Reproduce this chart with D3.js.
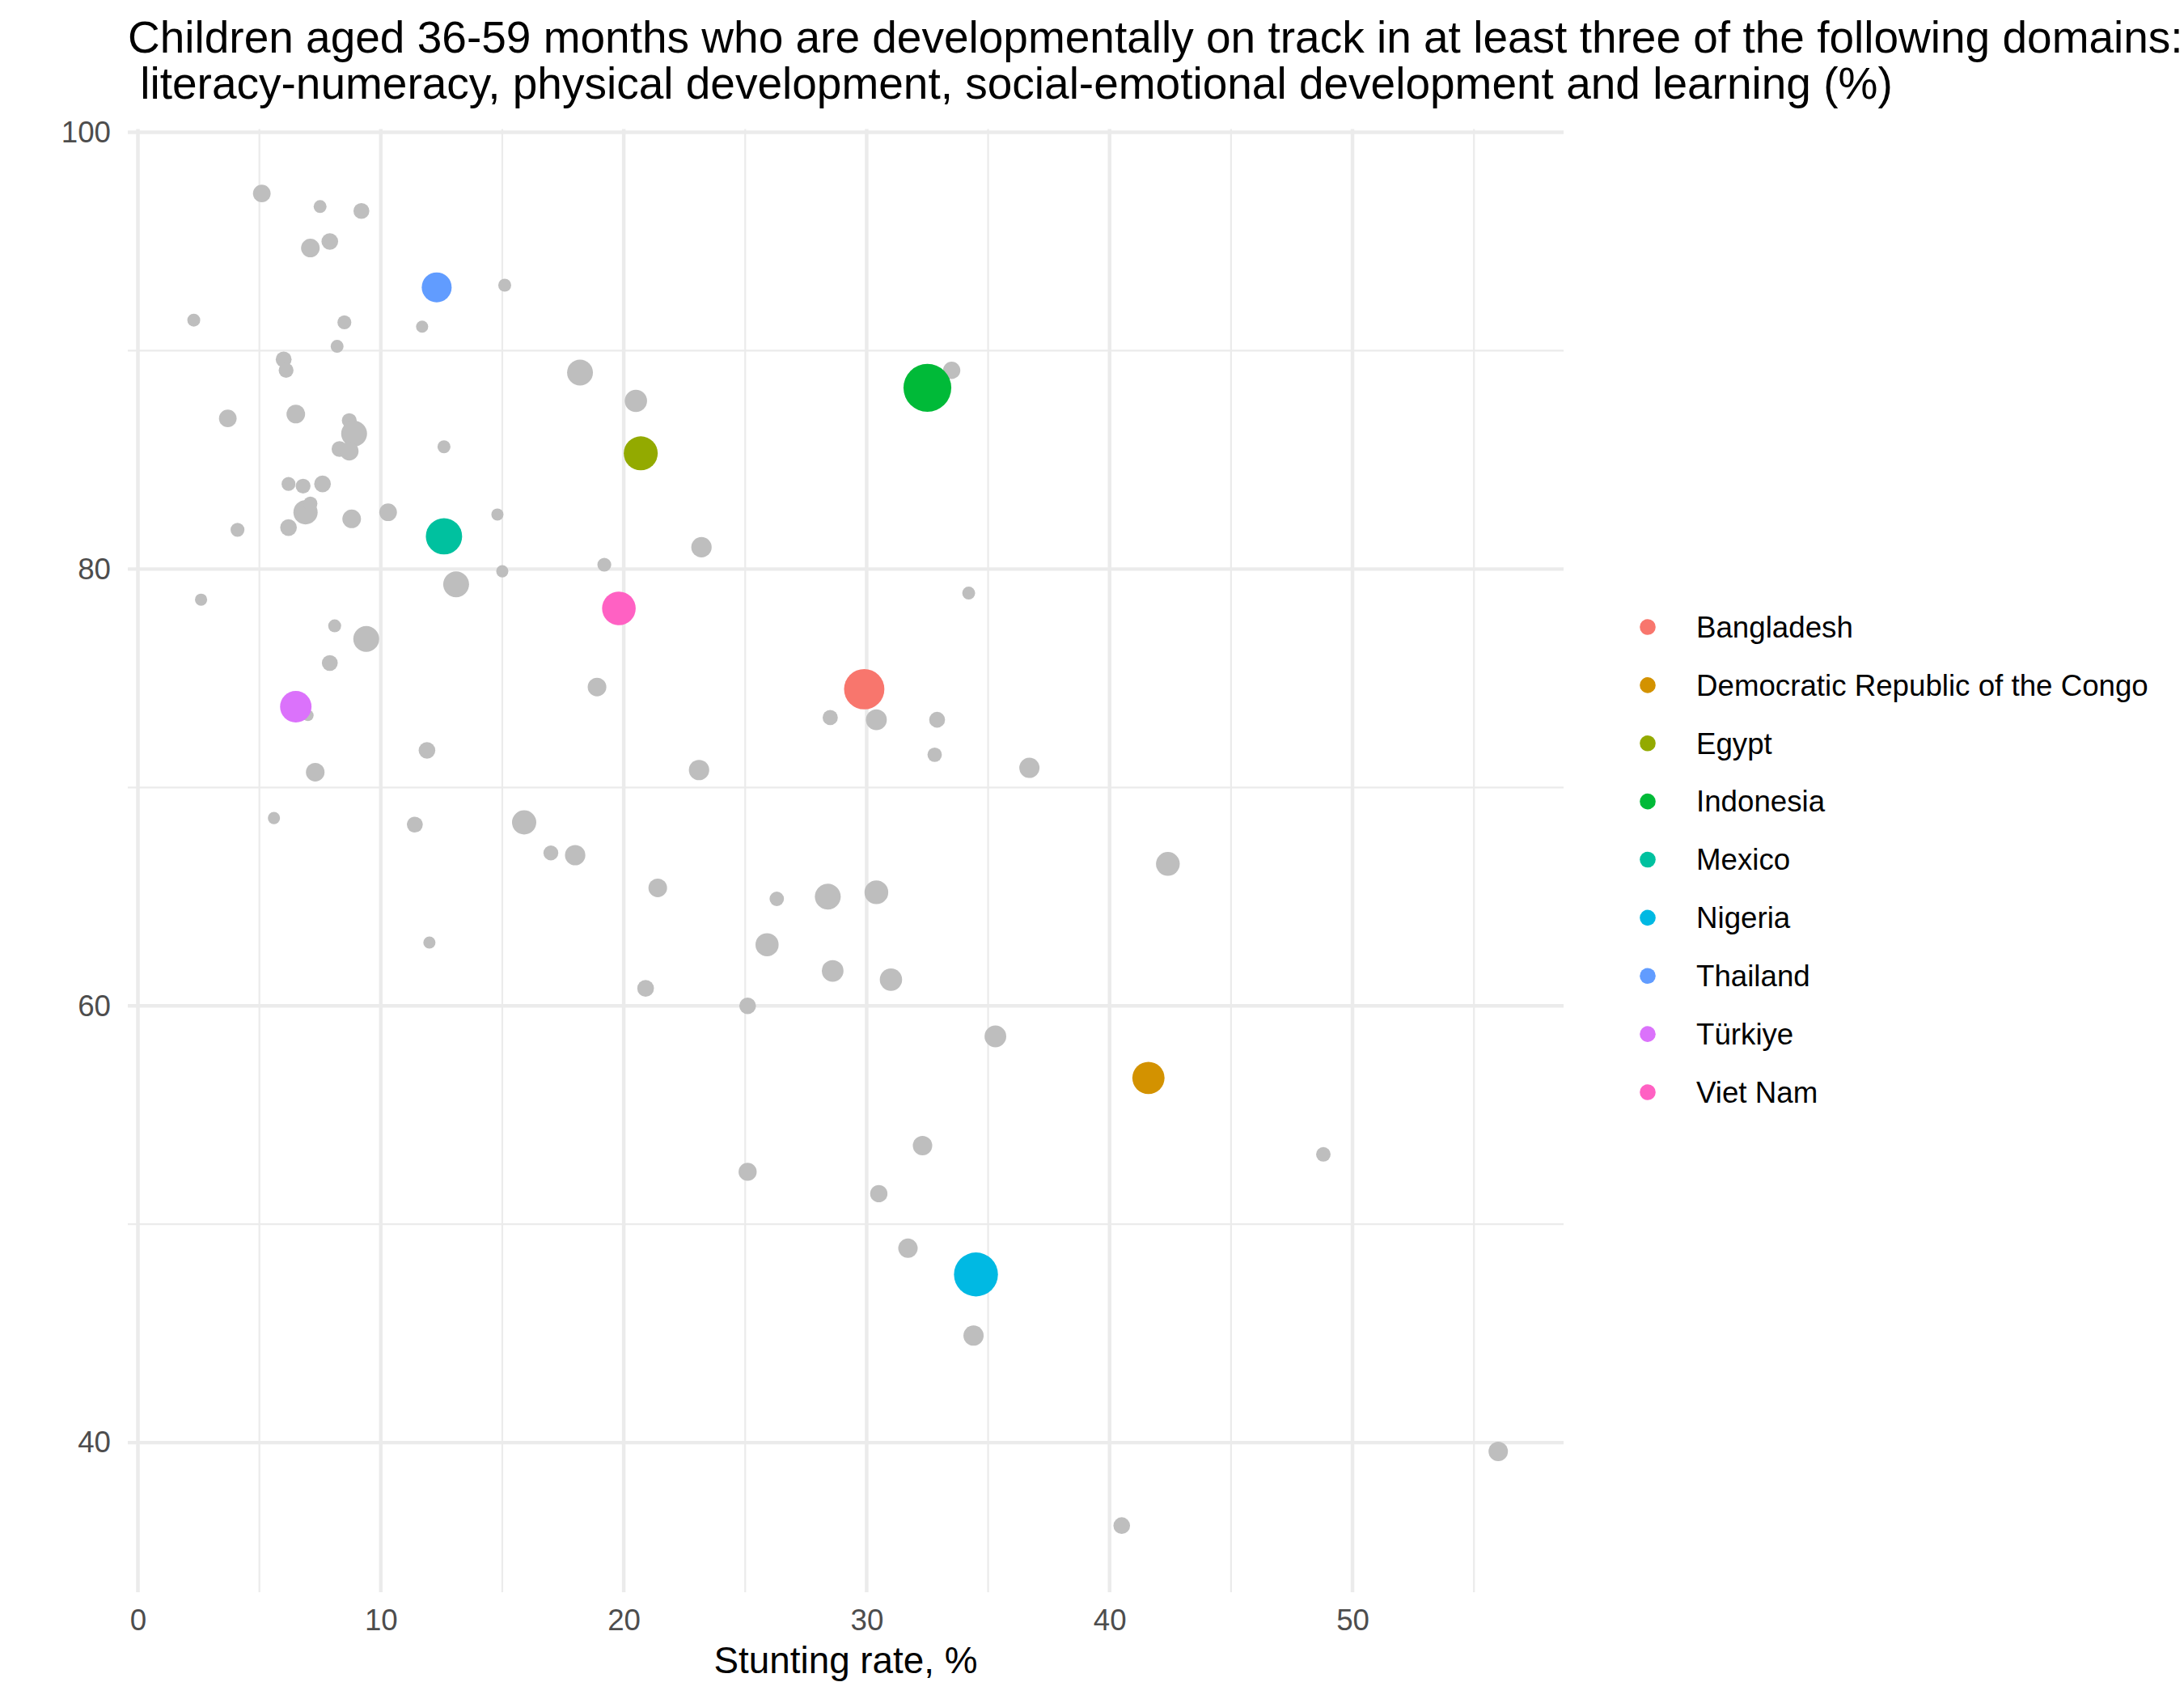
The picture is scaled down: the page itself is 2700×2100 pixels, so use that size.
<!DOCTYPE html>
<html>
<head>
<meta charset="utf-8">
<script src="https://cdn.jsdelivr.net/npm/d3@7"></script>
<style>
  html, body { margin: 0; padding: 0; background: #ffffff; }
  svg { display: block; }
  text { font-family: "Liberation Sans", Arial, Helvetica, sans-serif; }
</style>
</head>
<body>
<script>
// ---------------- DATA ----------------
const titleLines = [
  "Children aged 36-59 months who are developmentally on track in at least three of the following domains:",
  " literacy-numeracy, physical development, social-emotional development and learning (%)"
];
const xAxisTitle = "Stunting rate, %";

// Highlighted countries
const highlightCountries = ["Bangladesh", "Democratic Republic of the Congo", "Egypt", "Indonesia", "Mexico", "Nigeria", "Thailand", "Türkiye", "Viet Nam"];
const highlightStunting  = [29.9, 41.6, 20.7, 32.5, 12.6, 34.5, 12.3, 6.5, 19.8];
const highlightOnTrack   = [74.5, 56.7, 85.3, 88.3, 81.5, 47.7, 92.9, 73.7, 78.2];
const highlightSizeVar   = [69, 44, 49, 97, 56, 82, 38, 42, 48];
const highlightColors    = ["#F8766D", "#D39200", "#93AA00", "#00BA38", "#00C19F", "#00B9E3", "#619CFF", "#DB72FB", "#FF61C3"];

// Other countries (grey)
const otherStunting = [5.1, 7.5, 9.2, 7.9, 7.1, 15.1, 2.3, 8.5, 11.7, 8.2,
  6.0, 6.1, 18.2, 20.5, 3.7, 6.5, 8.7, 8.9, 12.6, 8.3,
  8.7, 6.2, 6.8, 7.6, 6.9, 7.1, 8.8, 10.3, 14.8, 4.1,
  6.2, 23.2, 19.2, 15.0, 13.1, 2.6, 8.1, 9.4, 7.9, 7.0,
  18.9, 11.9, 7.3, 23.1, 5.6, 11.4, 15.9, 17.0, 18.0, 21.4,
  12.0, 20.9, 33.5, 34.2, 28.5, 30.4, 32.9, 32.8, 36.7, 42.4,
  26.3, 28.4, 30.4, 25.9, 28.6, 31.0, 25.1, 35.3, 32.3, 25.1,
  30.5, 31.7, 34.4, 40.5, 48.8, 56.0];
const otherOnTrack = [97.2, 96.6, 96.4, 95.0, 94.7, 93.0, 91.4, 91.3, 91.1, 90.2,
  89.6, 89.1, 89.0, 87.7, 86.9, 87.1, 86.8, 86.2, 85.6, 85.5,
  85.4, 83.9, 83.8, 83.9, 82.6, 83.0, 82.3, 82.6, 82.5, 81.8,
  81.9, 81.0, 80.2, 79.9, 79.3, 78.6, 77.4, 76.8, 75.7, 73.3,
  74.6, 71.7, 70.7, 70.8, 68.6, 68.3, 68.4, 67.0, 66.9, 65.4,
  62.9, 60.8, 89.1, 78.9, 73.2, 73.1, 73.1, 71.5, 70.9, 66.5,
  64.9, 65.0, 65.2, 62.8, 61.6, 61.2, 60.0, 58.6, 53.6, 52.4,
  51.4, 48.9, 44.9, 36.2, 53.2, 39.6];
const otherSizeVar = [13.2, 7.1, 10.7, 11.8, 14.7, 7.1, 7.1, 8.2, 6.3, 7.1,
  10.7, 9.4, 28.4, 21.2, 13.2, 14.7, 9.4, 28.4, 7.1, 10.7,
  14.7, 8.2, 9.4, 11.8, 25.0, 8.4, 14.7, 13.2, 6.3, 8.2,
  11.8, 17.6, 8.2, 6.3, 28.4, 6.3, 7.1, 28.4, 10.7, 5.4,
  14.7, 11.8, 14.7, 17.6, 6.3, 10.7, 25.0, 9.4, 17.6, 14.7,
  6.3, 11.8, 12.7, 7.1, 9.8, 18.5, 10.7, 8.8, 17.4, 24.0,
  8.8, 28.4, 24.0, 22.7, 20.0, 21.2, 11.8, 20.0, 16.0, 13.9,
  12.7, 16.0, 17.4, 11.8, 9.0, 16.0];

const xMajorTicks = [0, 10, 20, 30, 40, 50];
const xMinorTicks = [5, 15, 25, 35, 45, 55];
const yMajorTicks = [40, 60, 80, 100];
const yMinorTicks = [50, 70, 90];

// ---------------- LAYOUT ----------------
const W = 2700, H = 2100;
const panel = { left: 158, right: 1933, top: 159.5, bottom: 1968 };
const greyColor = "#BEBEBE";
const gridColor = "#EBEBEB";

const svg = d3.select("body").append("svg")
  .attr("width", W).attr("height", H)
  .attr("viewBox", `0 0 ${W} ${H}`);
svg.append("rect").attr("width", W).attr("height", H).attr("fill", "#ffffff");

const x = d3.scaleLinear().domain([-0.416, 58.69]).range([panel.left, panel.right]);
const y = d3.scaleLinear().domain([33.15, 100.15]).range([panel.bottom, panel.top]);
const r = d3.scaleSqrt().domain([0, 100]).range([0, 30]);

// ---------------- GRID ----------------
const grid = svg.append("g");
grid.selectAll("line.xminor").data(xMinorTicks).join("line")
  .attr("x1", d => x(d)).attr("x2", d => x(d))
  .attr("y1", panel.top).attr("y2", panel.bottom)
  .attr("stroke", gridColor).attr("stroke-width", 2.2);
grid.selectAll("line.yminor").data(yMinorTicks).join("line")
  .attr("y1", d => y(d)).attr("y2", d => y(d))
  .attr("x1", panel.left).attr("x2", panel.right)
  .attr("stroke", gridColor).attr("stroke-width", 2.2);
grid.selectAll("line.xmajor").data(xMajorTicks).join("line")
  .attr("x1", d => x(d)).attr("x2", d => x(d))
  .attr("y1", panel.top).attr("y2", panel.bottom)
  .attr("stroke", gridColor).attr("stroke-width", 4.45);
grid.selectAll("line.ymajor").data(yMajorTicks).join("line")
  .attr("y1", d => y(d)).attr("y2", d => y(d))
  .attr("x1", panel.left).attr("x2", panel.right)
  .attr("stroke", gridColor).attr("stroke-width", 4.45);

// ---------------- AXES ----------------
const xAxis = svg.append("g")
  .attr("transform", `translate(0,${panel.bottom})`)
  .call(d3.axisBottom(x).tickValues(xMajorTicks).tickSize(0).tickPadding(21).tickFormat(d3.format("d")));
const yAxis = svg.append("g")
  .attr("transform", `translate(${panel.left},0)`)
  .call(d3.axisLeft(y).tickValues(yMajorTicks).tickSize(0).tickPadding(21).tickFormat(d3.format("d")));
[xAxis, yAxis].forEach(a => {
  a.select(".domain").remove();
  a.attr("font-family", null).attr("font-size", null);
  a.selectAll("text")
    .style("font-family", '"Liberation Sans", Arial, sans-serif')
    .style("font-size", "36.7px")
    .attr("fill", "#4D4D4D");
});

svg.append("text")
  .attr("x", (panel.left + panel.right) / 2)
  .attr("y", 2068)
  .attr("text-anchor", "middle")
  .style("font-size", "45.8px")
  .attr("fill", "#000000")
  .text(xAxisTitle);

// ---------------- TITLE ----------------
svg.append("text")
  .attr("x", panel.left)
  .attr("y", 65)
  .style("font-size", "55px")
  .attr("fill", "#000000")
  .attr("xml:space", "preserve")
  .style("white-space", "pre")
  .selectAll("tspan").data(titleLines).join("tspan")
  .attr("x", panel.left)
  .attr("dy", (d, i) => i === 0 ? 0 : 57)
  .text(d => d);

// ---------------- POINTS ----------------
const others = otherStunting.map((s, i) => ({ x: s, y: otherOnTrack[i], v: otherSizeVar[i] }));
const highlights = highlightCountries.map((c, i) => ({
  name: c, x: highlightStunting[i], y: highlightOnTrack[i], v: highlightSizeVar[i], color: highlightColors[i]
}));

svg.append("g").selectAll("circle").data(others).join("circle")
  .attr("cx", d => x(d.x)).attr("cy", d => y(d.y)).attr("r", d => r(d.v))
  .attr("fill", greyColor);

svg.append("g").selectAll("circle").data(highlights).join("circle")
  .attr("cx", d => x(d.x)).attr("cy", d => y(d.y)).attr("r", d => r(d.v))
  .attr("fill", d => d.color);

// ---------------- LEGEND ----------------
const legendRow = d3.scalePoint().domain(highlightCountries).range([775, 1350]);
const legend = svg.append("g");
const items = legend.selectAll("g").data(highlights).join("g")
  .attr("transform", d => `translate(2037,${legendRow(d.name)})`);
items.append("circle").attr("r", 9.8).attr("fill", d => d.color);
items.append("text")
  .attr("x", 60).attr("dy", "0.35em")
  .style("font-size", "36.7px")
  .attr("fill", "#000000")
  .text(d => d.name);
</script>
</body>
</html>
